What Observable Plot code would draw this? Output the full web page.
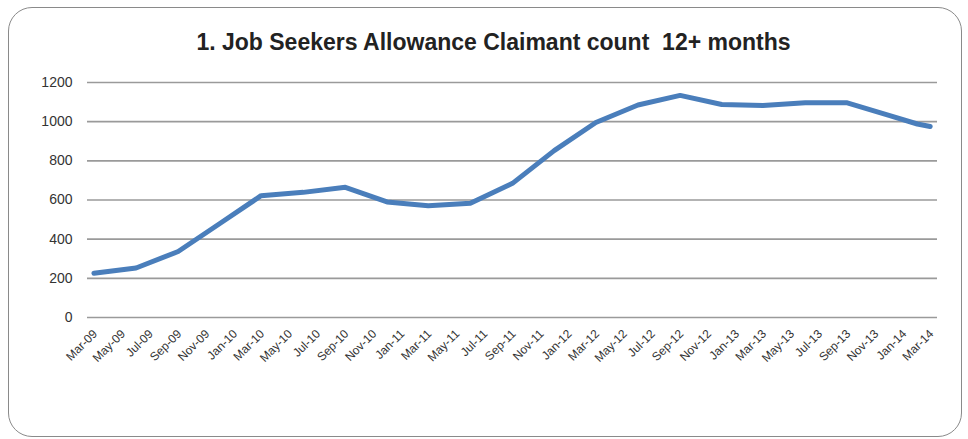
<!DOCTYPE html>
<html>
<head>
<meta charset="utf-8">
<script src="https://cdn.jsdelivr.net/npm/d3@7"></script>
<script src="https://cdn.jsdelivr.net/npm/@observablehq/plot@0.6"></script>
<style>
  html, body { margin: 0; padding: 0; background: #fff; }
  #wrap { position: relative; width: 968px; height: 439px; overflow: hidden; }
  #frame { position: absolute; left: 8px; top: 7px; width: 954px; height: 430px;
           border: 1.6px solid #8a8a8a; border-radius: 24px; box-sizing: border-box; }
  #title { position: absolute; left: 0; width: 987px; top: 29px; text-align: center;
           font-family: "Liberation Sans Narrow", "Liberation Sans", sans-serif; font-weight: bold;
           font-size: 23px; color: #222; }
  #chart { position: absolute; left: 0; top: 0; }
</style>
</head>
<body>
<div id="wrap">
  <div id="frame"></div>
  <div id="title">1. Job Seekers Allowance Claimant count&nbsp; 12+ months</div>
  <div id="chart"></div>
</div>
<script>
const months = ["Mar-09","Jun-09","Sep-09","Dec-09","Mar-10","Jun-10","Sep-10","Dec-10",
  "Mar-11","Jun-11","Sep-11","Dec-11","Mar-12","Jun-12","Sep-12","Dec-12",
  "Mar-13","Jun-13","Sep-13","Dec-13","Feb-14","Mar-14"];
const claimants = [226,253,337,480,622,639,665,590,
  571,583,685,852,996,1085,1134,1088,
  1082,1096,1096,1032,988,975];
const xTickLabels = ["Mar-09","May-09","Jul-09","Sep-09","Nov-09","Jan-10","Mar-10","May-10",
  "Jul-10","Sep-10","Nov-10","Jan-11","Mar-11","May-11","Jul-11","Sep-11","Nov-11","Jan-12",
  "Mar-12","May-12","Jul-12","Sep-12","Nov-12","Jan-13","Mar-13","May-13","Jul-13","Sep-13",
  "Nov-13","Jan-14","Mar-14"];
const yTicks = [0,200,400,600,800,1000,1200];

const parse = d3.utcParse("%b-%y");
const fmt = d3.utcFormat("%b-%y");
const data = months.map((m, i) => ({date: parse(m), value: claimants[i]}));
const tickDates = xTickLabels.map(parse);

const chart = Plot.plot({
  width: 968,
  height: 439,
  marginTop: 82,
  marginBottom: 122,
  marginLeft: 87,
  marginRight: 31,
  style: {fontFamily: "'Liberation Sans', sans-serif", background: "transparent", color: "#333"},
  x: {type: "utc", axis: null, domain: [new Date(Date.UTC(2009,1,15)), new Date(Date.UTC(2014,2,17))]},
  y: {axis: null, domain: [0, 1200]},
  marks: [
    Plot.ruleY(yTicks, {stroke: "#9a9a9a", strokeWidth: 1.6}),
    Plot.text(yTicks, {x: null, y: d => d, frameAnchor: "left", text: d => String(d), textAnchor: "end", dx: -15, fontSize: 14, fill: "#333"}),
    Plot.text(tickDates, {x: d => d, frameAnchor: "bottom", text: d => fmt(d), textAnchor: "end", rotate: -45, dx: 4, dy: 17, fontSize: 12, fill: "#333"}),
    Plot.line(data, {x: "date", y: "value", stroke: "#4a7ebb", strokeWidth: 5, strokeLinejoin: "round", strokeLinecap: "round"})
  ]
});
document.getElementById("chart").appendChild(chart);
</script>
</body>
</html>
